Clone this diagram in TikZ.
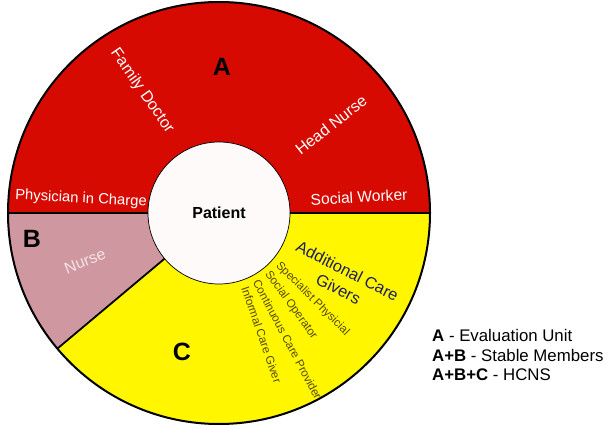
\documentclass[tikz,border=0pt]{standalone}
\usepackage{fontspec}
\setmainfont{Liberation Sans}
\definecolor{secA}{RGB}{215,10,0}
\definecolor{secB}{RGB}{207,152,161}
\definecolor{secC}{RGB}{255,246,0}
\definecolor{nursetxt}{RGB}{244,226,230}
\definecolor{navytxt}{RGB}{30,30,95}
\definecolor{olivetxt}{RGB}{85,75,10}
\definecolor{core}{RGB}{254,250,250}
\begin{document}
\begin{tikzpicture}[x=1pt,y=1pt,
  letter/.style={font=\fontsize{25}{25}\selectfont\bfseries, inner sep=0},
  whitelbl/.style={text=white, inner sep=0, font=\fontsize{#1}{#1}\selectfont},
  smalllbl/.style={text=olivetxt, inner sep=0, font=\fontsize{11.6}{11.6}\selectfont},
  legend/.style={anchor=west, inner sep=0, font=\fontsize{16.8}{16.8}\selectfont},
  sep/.style={line width=1.8pt}
]
\useasboundingbox (-219,-215) rectangle (390,213);
% sectors
\fill[secA] (0,0) -- (0:211) arc[start angle=0,end angle=180,radius=211] -- cycle;
\fill[secB] (0,0) -- (180:211) arc[start angle=180,end angle=220,radius=211] -- cycle;
\fill[secC] (0,0) -- (220:211) arc[start angle=220,end angle=360,radius=211] -- cycle;
\draw[sep] (180:211) -- (180:70) (0:70) -- (0:211) (220:70) -- (220:211);
\draw[line width=2pt] (0,0) circle[radius=211];
% centre
\node[circle, fill=core, draw=black, line width=0.7pt, minimum size=142pt, inner sep=0,
      font=\fontsize{16}{16}\selectfont\bfseries] (patient) at (0,0) {Patient};
% sector letters
\node[letter] (la) at (3,146) {A};
\node[letter] (lb) at (-187,-26) {B};
\node[letter] (lc) at (-37,-139) {C};
% section A labels
\node[whitelbl=14.8, rotate=-3] (phys) at (-138,14) {Physician in Charge};
\node[whitelbl=15.6, rotate=3] (social) at (140,16) {Social Worker};
\node[whitelbl=16, rotate=-55] (family) at (-77,122) {Family Doctor};
\node[whitelbl=16, rotate=38] (head) at (112,88) {Head Nurse};
% section B label
\node[text=nursetxt, inner sep=0, font=\fontsize{16}{16}\selectfont, rotate=22] (nurse) at (-134,-48) {Nurse};
% section C labels
\node[text=navytxt, inner sep=0, align=center, rotate=-27,
      font=\fontsize{16.4}{20}\selectfont] (acg) at (124,-67) {Additional Care\\Givers};
\node[smalllbl, rotate=-45] (spec) at (93.5,-86) {Specialist Physicial};
\node[smalllbl, rotate=-54] (sop) at (72,-92) {Social Operator};
\node[smalllbl, rotate=-62] (ccp) at (68.5,-126.5) {Continuous Care Provider};
\node[smalllbl, rotate=-71] (icg) at (42.5,-121.5) {Informal Care Giver};
% legend
\node[legend] (leg1) at (213,-122) {\textbf{A} - Evaluation Unit};
\node[legend] (leg2) at (213,-142) {\textbf{A+B} - Stable Members};
\node[legend] (leg3) at (213,-162) {\textbf{A+B+C} - HCNS};
\end{tikzpicture}
\end{document}
